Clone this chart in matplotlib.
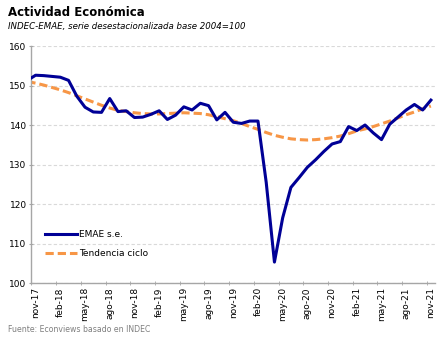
import numpy as np
import pandas as pd
import matplotlib
matplotlib.use("Agg")
import matplotlib.pyplot as plt

# Monthly series oct-17 .. nov-21 (oct-17 only sits at the left edge of the axis)
months = pd.date_range("2017-10-01", "2021-11-01", freq="MS")
emae = [151.3,
        152.6, 152.5, 152.3, 152.1, 151.3, 147.3, 144.5, 143.3, 143.2, 146.7,
        143.4, 143.6, 141.9, 142.0, 142.7, 143.6, 141.4, 142.5, 144.6, 143.8,
        145.5, 144.9, 141.3, 143.2, 140.7, 140.4, 141.0, 141.0, 125.5, 105.3,
        116.5, 124.2, 126.7, 129.3, 131.2, 133.3, 135.2, 135.8, 139.6, 138.6,
        140.0, 138.0, 136.3, 140.2, 142.0, 143.8, 145.2, 143.8, 146.3]
tendencia = [151.0,
             150.6, 150.1, 149.5, 148.9, 148.2, 147.4, 146.6, 145.8, 145.0, 144.3,
             143.7, 143.4, 143.1, 142.9, 142.8, 142.8, 142.9, 143.0, 143.1, 143.0,
             142.9, 142.6, 142.1, 141.6, 141.1, 140.4, 139.6, 138.9, 138.1, 137.4,
             136.9, 136.5, 136.3, 136.2, 136.3, 136.5, 136.8, 137.2, 137.8, 138.5,
             139.0, 139.6, 140.3, 141.0, 141.8, 142.6, 143.3, 144.1, 144.8]

mes_es = ["ene", "feb", "mar", "abr", "may", "jun", "jul", "ago", "sep", "oct", "nov", "dic"]
labels = [f"{mes_es[d.month - 1]}-{d.strftime('%y')}" for d in months]
x = np.arange(len(months)) - 1  # nov-17 -> 0

fig = plt.figure(figsize=(4.43, 3.40), dpi=100)
ax = fig.add_axes([0.0711, 0.1676, 0.9109, 0.6971])

ax.plot(x, emae, color="#000096", lw=2.2, label="EMAE s.e.", zorder=3,
        solid_joinstyle="round")
ax.plot(x, tendencia, color="#F79646", lw=2.2, dashes=(2.7, 1.3),
        label="Tendencia ciclo", zorder=2)

ax.set_xlim(-0.5, 48.5)
ax.set_ylim(100, 160)

# y axis
ax.set_yticks(range(100, 161, 10))
ax.grid(axis="y", color="#D9D9D9", lw=0.8, ls=(0, (3, 2)))
ax.set_axisbelow(True)

# category axis: labels on every third month, ticks on category boundaries
ax.set_xticks(x[1::3])
ax.set_xticklabels(labels[1::3], rotation=90)
ax.set_xticks(np.arange(-0.5, 48, 3), minor=True)
ax.tick_params(axis="x", which="major", length=0, pad=3, labelsize=6.5)
ax.tick_params(axis="x", which="minor", length=3, color="#A6A6A6", direction="inout")
ax.tick_params(axis="y", length=3, color="#A6A6A6", labelsize=6.5, pad=2,
               direction="inout")

for side in ["top", "right"]:
    ax.spines[side].set_visible(False)
for side in ["left", "bottom"]:
    ax.spines[side].set_color("#A6A6A6")
    ax.spines[side].set_linewidth(1.0)

ax.legend(loc="upper left", bbox_to_anchor=(0.033, 0.224), frameon=False,
          fontsize=6.5, handlelength=3.6, handletextpad=0.2, labelspacing=1.08,
          borderpad=0, borderaxespad=0)

fig.text(0.018, 0.962, "Actividad Económica", fontsize=8.5, fontweight="bold",
         va="center", ha="left")
fig.text(0.018, 0.922, "INDEC-EMAE, serie desestacionalizada base 2004=100",
         fontsize=6.2, style="italic", va="center", ha="left")
fig.text(0.018, 0.030, "Fuente: Econviews basado en INDEC", fontsize=5.6,
         color="#7F7F7F", va="center", ha="left")

fig.savefig("out.png", dpi=100)
